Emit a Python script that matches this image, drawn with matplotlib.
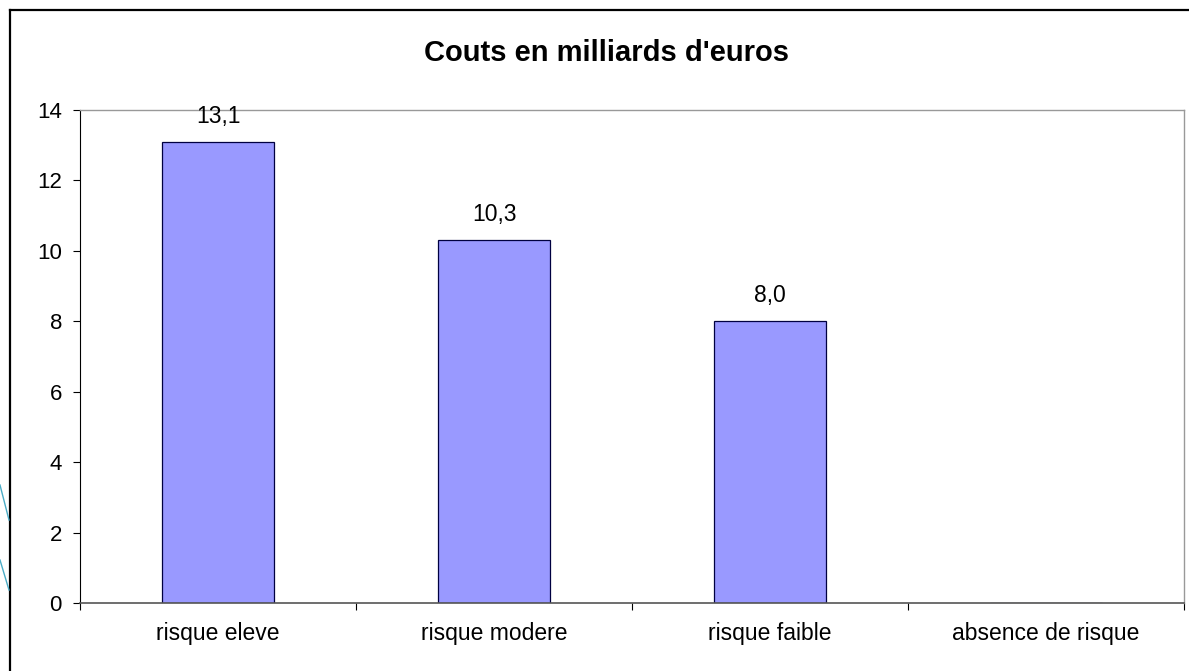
import numpy as np
import matplotlib
matplotlib.use("Agg")
import matplotlib.pyplot as plt
from matplotlib.lines import Line2D

categories = ["risque eleve", "risque modere", "risque faible", "absence de risque"]
couts = [13.1, 10.3, 8.0, 0.0]
labels = ["13,1", "10,3", "8,0", ""]
yticks = [0, 2, 4, 6, 8, 10, 12, 14]

plt.rcParams['font.family'] = ['Liberation Sans', 'DejaVu Sans']

W, H = 1189, 671
fig = plt.figure(figsize=(W / 100, H / 100), dpi=100)
ax = fig.add_axes([80 / W, 1 - 603 / H, (1184 - 80) / W, (603 - 110) / H])

x = np.arange(len(categories))
ax.bar(x, couts, width=0.405, color='#9999FF', edgecolor='#000040', linewidth=0.9)

for xi, v, lab in zip(x, couts, labels):
    if lab:
        ax.annotate(lab, (xi, v), xytext=(0, 10), textcoords='offset points',
                    ha='center', va='bottom', fontsize=16.5)

ax.set_xlim(-0.5, len(categories) - 0.5)
ax.set_ylim(0, 14)
ax.set_yticks(yticks)
ax.set_yticklabels([str(t) for t in yticks], fontsize=16)
ax.tick_params(axis='y', direction='out', length=5, width=0.8, pad=8)

# ticks between categories, labels centred
ax.set_xticks(np.arange(len(categories) + 1) - 0.5)
ax.set_xticklabels([])
ax.set_xticks(x, minor=True)
ax.set_xticklabels(categories, minor=True, fontsize=16.5)
ax.tick_params(axis='x', which='major', direction='out', length=5, width=0.8)
ax.tick_params(axis='x', which='minor', length=0, pad=14)

ax.spines['left'].set_color('black')
ax.spines['left'].set_linewidth(0.8)
ax.spines['bottom'].set_color('#555555')
ax.spines['bottom'].set_linewidth(1.2)
for s in ['top', 'right']:
    ax.spines[s].set_color('#999999')
    ax.spines[s].set_linewidth(1.0)

fig.text(606 / W, 1 - 53 / H, "Couts en milliards d'euros", ha='center', va='center',
         fontsize=21, fontweight='bold')

# outer chart frame
fig.add_artist(Line2D([10 / W, 1], [1 - 10 / H, 1 - 10 / H], color='black', lw=1.6))
fig.add_artist(Line2D([10 / W, 10 / W], [1 - 10 / H, 0], color='black', lw=1.6))

# teal lines peeking in at the left edge
fig.add_artist(Line2D([0, 9 / W], [1 - 485 / H, 1 - 520 / H], color='#4BACC6', lw=1.0))
fig.add_artist(Line2D([0, 9 / W], [1 - 560 / H, 1 - 590 / H], color='#4BACC6', lw=1.0))

fig.savefig("out.png", dpi=100)
